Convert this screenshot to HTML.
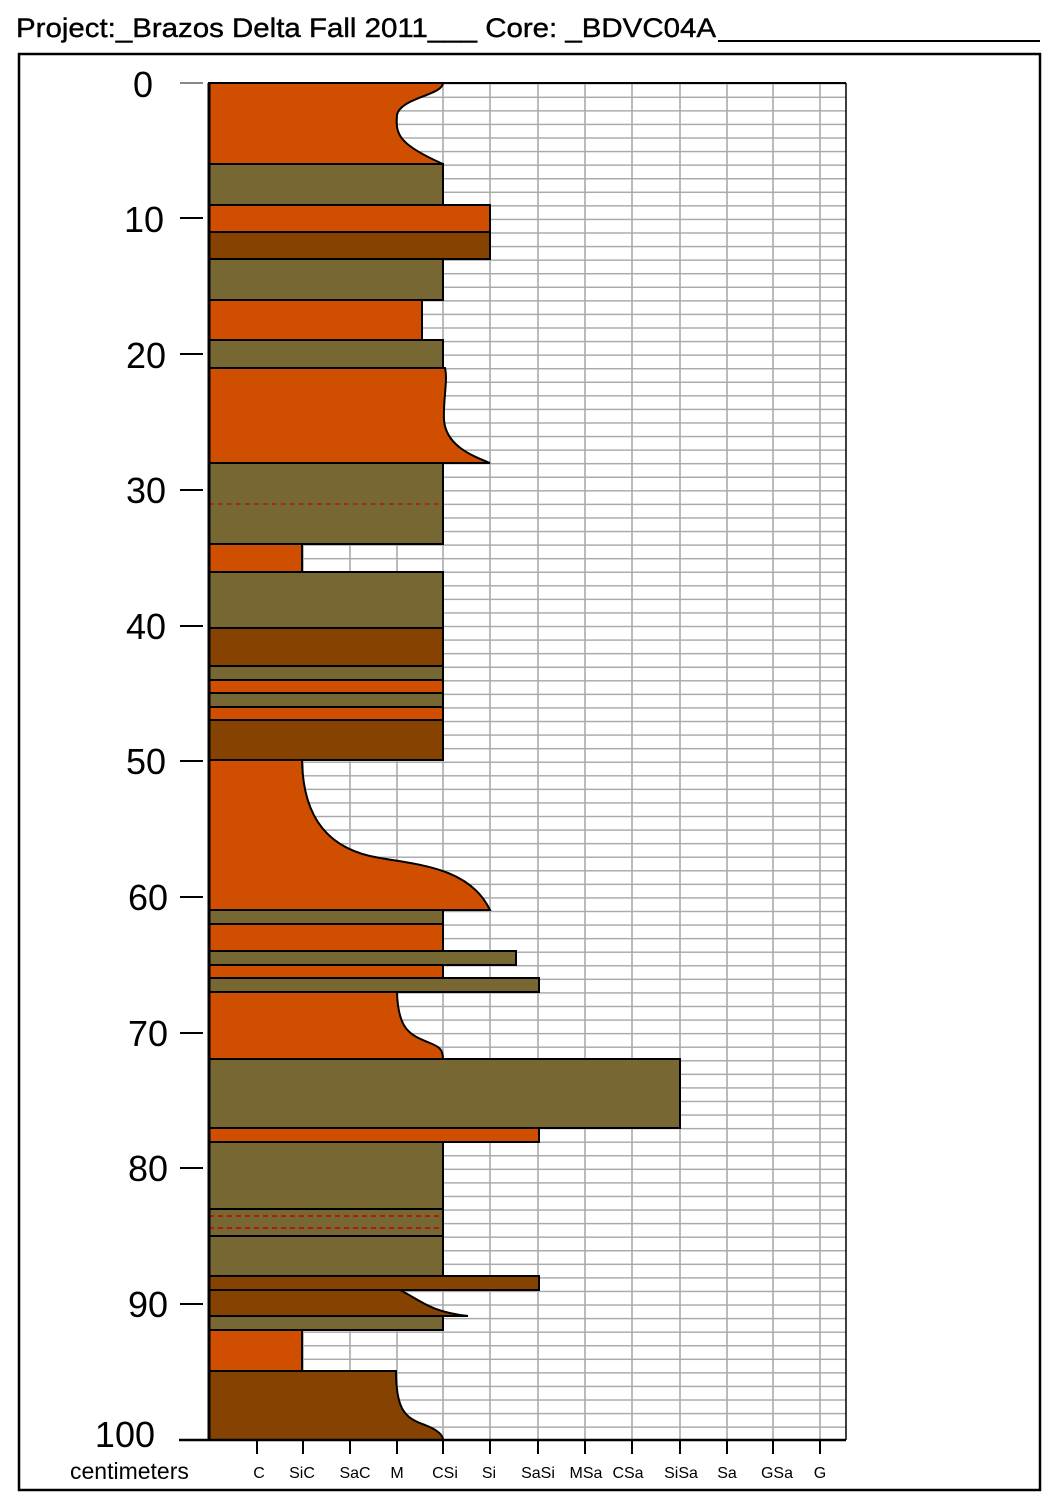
<!DOCTYPE html>
<html><head><meta charset="utf-8"><style>body{margin:0;background:#fff}svg{display:block}</style></head><body>
<svg width="1064" height="1492" viewBox="0 0 1064 1492" xmlns="http://www.w3.org/2000/svg" font-family="Liberation Sans, Arial, sans-serif">
<defs>
<pattern id="hg" x="209" y="83" width="637" height="13.57" patternUnits="userSpaceOnUse">
<line x1="0" y1="0" x2="637" y2="0" stroke="#aaa" stroke-width="3"/>
</pattern>
</defs>
<rect width="1064" height="1492" fill="#fff"/>
<text x="16" y="37" font-size="27" textLength="700" lengthAdjust="spacingAndGlyphs" stroke="#000" stroke-width="0.4">Project:_Brazos Delta Fall 2011___   Core: _BDVC04A</text>
<line x1="718" y1="41" x2="1040" y2="41" stroke="#000" stroke-width="2"/>
<rect x="19" y="54" width="1021" height="1436" fill="none" stroke="#000" stroke-width="2.5"/>
<rect x="209" y="83" width="637" height="1357" fill="url(#hg)"/>
<g stroke="#aaa" stroke-width="1.6">
<line x1="257" y1="83" x2="257" y2="1440"/><line x1="303" y1="83" x2="303" y2="1440"/>
<line x1="350" y1="83" x2="350" y2="1440"/><line x1="397" y1="83" x2="397" y2="1440"/>
<line x1="443" y1="83" x2="443" y2="1440"/><line x1="490" y1="83" x2="490" y2="1440"/>
<line x1="538" y1="83" x2="538" y2="1440"/><line x1="585" y1="83" x2="585" y2="1440"/>
<line x1="632" y1="83" x2="632" y2="1440"/><line x1="680" y1="83" x2="680" y2="1440"/>
<line x1="727" y1="83" x2="727" y2="1440"/><line x1="773" y1="83" x2="773" y2="1440"/>
<line x1="820" y1="83" x2="820" y2="1440"/>
</g>
<line x1="846" y1="83" x2="846" y2="1440" stroke="#000" stroke-width="1.5"/>
<line x1="209" y1="83" x2="846" y2="83" stroke="#000" stroke-width="2"/>
<g stroke="#000" stroke-width="2">
<path d="M209 83 H443 C443 95 400 98 397 115 C395 135 400 145 443 164 H209Z" fill="#D04E00"/>
<rect x="209" y="164" width="234" height="41" fill="#766733"/>
<rect x="209" y="205" width="281" height="27" fill="#D04E00"/>
<rect x="209" y="232" width="281" height="27" fill="#864200"/>
<rect x="209" y="259" width="234" height="41" fill="#766733"/>
<rect x="209" y="300" width="213" height="40" fill="#D04E00"/>
<rect x="209" y="340" width="234" height="28" fill="#766733"/>
<path d="M209 368 H445 C448 380 443 400 444 420 C446 445 470 455 490 463 H209Z" fill="#D04E00"/>
<rect x="209" y="463" width="234" height="81" fill="#766733"/>
<rect x="209" y="544" width="93" height="28" fill="#D04E00"/>
<rect x="209" y="572" width="234" height="56" fill="#766733"/>
<rect x="209" y="628" width="234" height="38" fill="#864200"/>
<rect x="209" y="666" width="234" height="14" fill="#766733"/>
<rect x="209" y="680" width="234" height="13" fill="#D04E00"/>
<rect x="209" y="693" width="234" height="14" fill="#766733"/>
<rect x="209" y="707" width="234" height="13" fill="#D04E00"/>
<rect x="209" y="720" width="234" height="40" fill="#864200"/>
<path d="M209 760 H302 C303 820 330 850 380 858 C420 865 470 868 490 910 H209Z" fill="#D04E00"/>
<rect x="209" y="910" width="234" height="14" fill="#766733"/>
<rect x="209" y="924" width="234" height="27" fill="#D04E00"/>
<rect x="209" y="951" width="307" height="14" fill="#766733"/>
<rect x="209" y="965" width="234" height="13" fill="#D04E00"/>
<rect x="209" y="978" width="330" height="14" fill="#766733"/>
<path d="M209 992 H397 C398 1030 410 1035 430 1043 C440 1047 443 1050 443 1059 H209Z" fill="#D04E00"/>
<rect x="209" y="1059" width="471" height="69" fill="#766733"/>
<rect x="209" y="1128" width="330" height="14" fill="#D04E00"/>
<rect x="209" y="1142" width="234" height="67" fill="#766733"/>
<rect x="209" y="1209" width="234" height="27" fill="#766733"/>
<rect x="209" y="1236" width="234" height="40" fill="#766733"/>
<rect x="209" y="1276" width="330" height="14" fill="#864200"/>
<path d="M209 1290 H400 C420 1300 430 1312 468 1316 H209Z" fill="#864200"/>
<rect x="209" y="1316" width="234" height="14" fill="#766733"/>
<rect x="209" y="1330" width="93" height="41" fill="#D04E00"/>
<path d="M209 1371 H396 C396 1410 405 1418 425 1425 C438 1430 443 1435 443 1440 H209Z" fill="#864200"/>
</g>
<line x1="209" y1="504" x2="443" y2="504" stroke="#c00" stroke-width="1.2" stroke-dasharray="5 4"/>
<line x1="213" y1="504" x2="443" y2="504" stroke="#2a7a2a" stroke-width="1" stroke-dasharray="2 7"/>
<line x1="209" y1="1216" x2="443" y2="1216" stroke="#c00" stroke-width="1.5" stroke-dasharray="5 4"/>
<line x1="209" y1="1228" x2="443" y2="1228" stroke="#c00" stroke-width="1.5" stroke-dasharray="5 4"/>
<line x1="209" y1="83" x2="209" y2="1440" stroke="#000" stroke-width="3"/>
<line x1="179" y1="1440" x2="846" y2="1440" stroke="#000" stroke-width="2.5"/>
<g stroke="#000" stroke-width="2">
<line x1="180" y1="83" x2="203" y2="83" stroke="#888"/>
<line x1="180" y1="218" x2="203" y2="218"/><line x1="180" y1="354" x2="203" y2="354"/>
<line x1="180" y1="490" x2="203" y2="490"/><line x1="180" y1="626" x2="203" y2="626"/>
<line x1="180" y1="761" x2="203" y2="761"/><line x1="180" y1="897" x2="203" y2="897"/>
<line x1="180" y1="1033" x2="203" y2="1033"/><line x1="180" y1="1168" x2="203" y2="1168"/>
<line x1="180" y1="1304" x2="203" y2="1304"/>
<line x1="257" y1="1440" x2="257" y2="1454"/><line x1="303" y1="1440" x2="303" y2="1454"/>
<line x1="350" y1="1440" x2="350" y2="1454"/><line x1="397" y1="1440" x2="397" y2="1454"/>
<line x1="443" y1="1440" x2="443" y2="1454"/><line x1="490" y1="1440" x2="490" y2="1454"/>
<line x1="538" y1="1440" x2="538" y2="1454"/><line x1="585" y1="1440" x2="585" y2="1454"/>
<line x1="632" y1="1440" x2="632" y2="1454"/><line x1="680" y1="1440" x2="680" y2="1454"/>
<line x1="727" y1="1440" x2="727" y2="1454"/><line x1="773" y1="1440" x2="773" y2="1454"/>
<line x1="820" y1="1440" x2="820" y2="1454"/>
</g>
<g font-size="36" text-anchor="end">
<text x="153" y="97">0</text><text x="164" y="232">10</text><text x="166" y="368">20</text>
<text x="166" y="503">30</text><text x="166" y="639">40</text><text x="166" y="774">50</text>
<text x="168" y="910">60</text><text x="168" y="1046">70</text><text x="168" y="1181">80</text>
<text x="168" y="1317">90</text><text x="155" y="1447">100</text>
</g>
<text x="70" y="1479" font-size="23">centimeters</text>
<g font-size="16" text-anchor="middle">
<text x="259" y="1478">C</text><text x="302" y="1478">SiC</text><text x="355" y="1478">SaC</text>
<text x="397" y="1478">M</text><text x="445" y="1478">CSi</text><text x="489" y="1478">Si</text>
<text x="538" y="1478">SaSi</text><text x="586" y="1478">MSa</text><text x="628" y="1478">CSa</text>
<text x="681" y="1478">SiSa</text><text x="727" y="1478">Sa</text><text x="777" y="1478">GSa</text>
<text x="820" y="1478">G</text>
</g>
</svg>
</body></html>
